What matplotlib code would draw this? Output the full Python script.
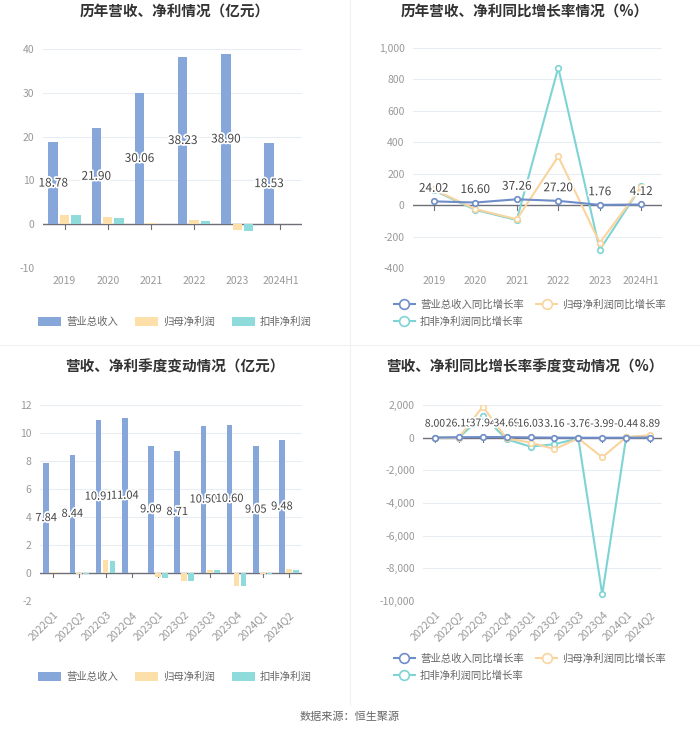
import matplotlib
matplotlib.use("Agg")
import matplotlib.pyplot as plt
import matplotlib.patheffects as pe
from matplotlib.lines import Line2D
from matplotlib.patches import Patch
import numpy as np

plt.rcParams['font.family'] = ['Noto Sans CJK SC', 'DejaVu Sans']
plt.rcParams['axes.unicode_minus'] = False

# ---------------- data ----------------
years = ['2019', '2020', '2021', '2022', '2023', '2024H1']
rev_year = [18.78, 21.90, 30.06, 38.23, 38.90, 18.53]
np_year = [2.2, 1.7, 0.2, 1.0, -1.4, 0.05]
kf_year = [2.2, 1.5, 0.08, 0.8, -1.55, 0.1]

rev_year_g = [24.02, 16.60, 37.26, 27.20, 1.76, 4.12]
np_year_g = [100, -25, -90, 310, -240, 115]
kf_year_g = [95, -30, -95, 875, -285, 120]

quarters = ['2022Q1', '2022Q2', '2022Q3', '2022Q4', '2023Q1', '2023Q2',
            '2023Q3', '2023Q4', '2024Q1', '2024Q2']
rev_q = [7.84, 8.44, 10.91, 11.04, 9.09, 8.71, 10.50, 10.60, 9.05, 9.48]
np_q = [0.05, -0.05, 0.9, 0.02, -0.25, -0.55, 0.25, -0.9, -0.1, 0.3]
kf_q = [0.02, -0.08, 0.85, 0.02, -0.35, -0.55, 0.25, -0.95, -0.1, 0.25]

rev_q_g = [8.00, 26.15, 37.94, 34.69, 16.03, 3.16, -3.76, -3.99, -0.44, 8.89]
np_q_g = [0, 0, 1900, -50, -300, -700, -50, -1200, 30, 150]
kf_q_g = [0, 0, 1350, -100, -550, -400, -50, -9600, 20, 120]

titles = ['历年营收、净利情况（亿元）', '历年营收、净利同比增长率情况（%）',
          '营收、净利季度变动情况（亿元）', '营收、净利同比增长率季度变动情况（%）']
bar_names = ['营业总收入', '归母净利润', '扣非净利润']
line_names = ['营业总收入同比增长率', '归母净利润同比增长率', '扣非净利润同比增长率']
source = '数据来源：恒生聚源'

# ---------------- style ----------------
C_BLUE = '#87A7DB'
C_ORG = '#FDDFA9'
C_TEAL = '#8FDADA'
L_BLUE = '#6F8DC9'
L_ORG = '#F9D49E'
L_TEAL = '#7ED4D4'
GRID = '#E9EDF3'
TICK = '#999999'
AXIS = '#6E7079'

W, H = 700, 734
fig = plt.figure(figsize=(W / 100, H / 100), dpi=100)


def fr(x0, y0, x1, y1):
    return [x0 / W, 1 - y1 / H, (x1 - x0) / W, (y1 - y0) / H]


def style(ax, ylim, yticks, fmt, cats, rot):
    ax.set_ylim(*ylim)
    ax.set_yticks(yticks)
    ax.set_yticklabels([fmt(v) for v in yticks], fontsize=7.5, color=TICK)
    ax.set_xlim(-0.5, len(cats) - 0.5)
    ax.set_xticks(range(len(cats)))
    if rot:
        ax.set_xticklabels(cats, fontsize=7.5, color=TICK, rotation=45,
                           ha='right', rotation_mode='anchor')
    else:
        ax.set_xticklabels(cats, fontsize=7.5, color=TICK)
    ax.tick_params(axis='y', length=0, pad=6)
    ax.tick_params(axis='x', length=0, pad=6)
    for s in ax.spines.values():
        s.set_visible(False)
    for v in yticks:
        if v != 0:
            ax.axhline(v, color=GRID, lw=0.8, zorder=0)
    ax.axhline(0, color=AXIS, lw=1.0, zorder=1)
    yr = ylim[1] - ylim[0]
    for i in range(len(cats)):
        ax.plot([i, i], [0, -yr * 0.02], color=AXIS, lw=0.8, zorder=1,
                clip_on=False)


def int_fmt(v):
    return f'{int(v)}'


def comma_fmt(v):
    return f'{int(v):,}'


stroke = [pe.withStroke(linewidth=2.5, foreground='white')]


def bar_chart(rect, cats, rev, npf, kf, ylim, yticks, rot, bw, lfs):
    ax = fig.add_axes(rect)
    x = np.arange(len(cats))
    off = bw * 1.2
    ax.bar(x - off, rev, bw, color=C_BLUE, zorder=2)
    ax.bar(x, npf, bw, color=C_ORG, zorder=2)
    ax.bar(x + off, kf, bw, color=C_TEAL, zorder=2)
    style(ax, ylim, yticks, int_fmt, cats, rot)
    for xi, v in zip(x, rev):
        ax.text(xi - off, v / 2, f'{v:.2f}', ha='center', va='center',
                fontsize=lfs, color='#444444', path_effects=stroke, zorder=5)
    return ax


def line_chart(rect, cats, a, b, c, ylim, yticks, rot, fmt, lab_off, lfs):
    ax = fig.add_axes(rect)
    x = np.arange(len(cats))
    kw = dict(marker='o', markersize=4, markerfacecolor='white',
              markeredgewidth=1.2, lw=1.5, zorder=3)
    ax.plot(x, c, color=L_TEAL, **kw)
    ax.plot(x, b, color=L_ORG, **kw)
    ax.plot(x, a, color=L_BLUE, **kw)
    style(ax, ylim, yticks, fmt, cats, rot)
    yr = ylim[1] - ylim[0]
    for xi, v in zip(x, a):
        ax.text(xi, v + yr * lab_off, f'{v:.2f}', ha='center', va='bottom',
                fontsize=lfs, color='#444444', path_effects=stroke, zorder=5)
    return ax


# top-left
bar_chart(fr(43, 49, 302, 268), years, rev_year, np_year, kf_year,
          (-10, 40), [-10, 0, 10, 20, 30, 40], False, 0.22, 8.5)
# bottom-left
bar_chart(fr(40, 405, 302, 601), quarters, rev_q, np_q, kf_q,
          (-2, 12), [-2, 0, 2, 4, 6, 8, 10, 12], True, 0.22, 8)
# top-right
line_chart(fr(413, 48, 662, 268), years, rev_year_g, np_year_g, kf_year_g,
           (-400, 1000), [-400, -200, 0, 200, 400, 600, 800, 1000], False,
           comma_fmt, 0.03, 8.5)
# bottom-right
line_chart(fr(423, 405, 662, 601), quarters, rev_q_g, np_q_g, kf_q_g,
           (-10000, 2000), [-10000, -8000, -6000, -4000, -2000, 0, 2000], True,
           comma_fmt, 0.045, 7.5)

# titles
for (cx, cy), t in zip([(175, 12), (525, 12), (175, 367), (525, 367)], titles):
    fig.text(cx / W, 1 - cy / H, t, ha='center', va='center', fontsize=10.5,
             fontweight='bold', color='#333333')

# legends
bar_handles = [Patch(facecolor=col, edgecolor='none') for col in (C_BLUE, C_ORG, C_TEAL)]
for cy in (322, 677):
    fig.legend(bar_handles, bar_names, loc='center', ncol=3,
               bbox_to_anchor=(175 / W, 1 - cy / H), frameon=False,
               fontsize=7.5, labelcolor='#666666', handlelength=2.2,
               handleheight=0.9, columnspacing=1.6, handletextpad=0.5)

line_handles = [Line2D([0], [0], color=col, marker='o', markersize=7,
                       markerfacecolor='white', markeredgewidth=1.2, lw=1.5)
                for col in (L_BLUE, L_ORG, L_TEAL)]
order = [0, 2, 1]
for cy in (313, 667):
    fig.legend([line_handles[i] for i in order], [line_names[i] for i in order],
               loc='center', ncol=2,
               bbox_to_anchor=(530 / W, 1 - cy / H), frameon=False,
               fontsize=7.5, labelcolor='#666666', handlelength=2.0,
               columnspacing=1.2, handletextpad=0.5, labelspacing=0.6)

# dividers
fig.add_artist(Line2D([350 / W, 350 / W], [0.04, 1.0], color='#F0F0F0', lw=0.8))
fig.add_artist(Line2D([0, 1], [1 - 345 / H, 1 - 345 / H], color='#F0F0F0', lw=0.8))

fig.text(0.5, 1 - 717 / H, source, ha='center', va='center', fontsize=8,
         color='#666666')

fig.savefig('out.png', dpi=100, facecolor='white')
